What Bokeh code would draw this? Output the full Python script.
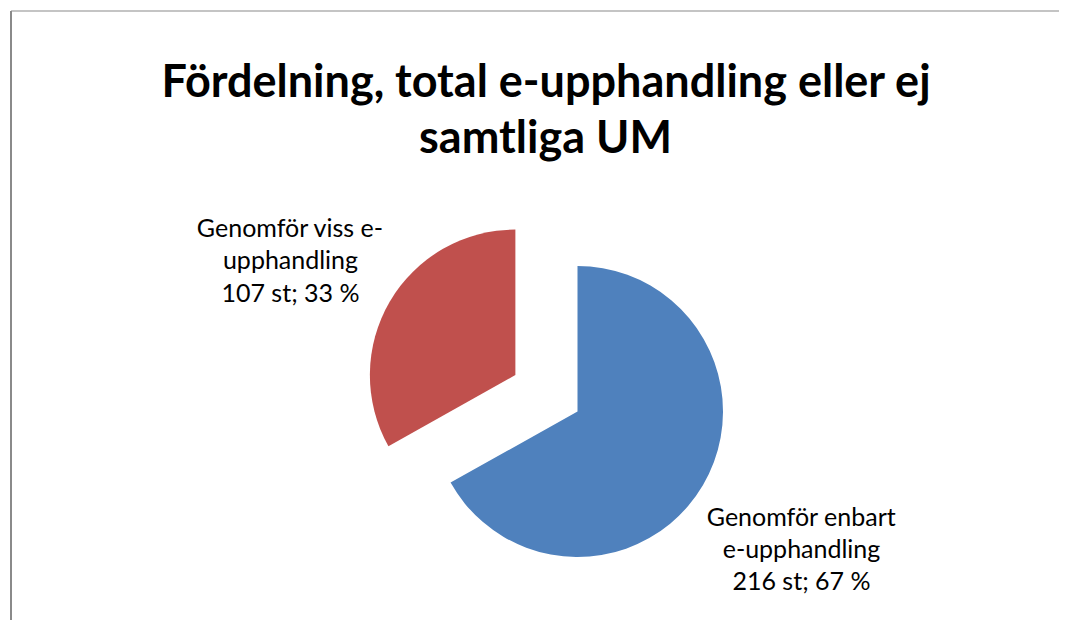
import math
from bokeh.plotting import figure
from bokeh.models import Range1d, ColumnDataSource
from bokeh.core.properties import value
from bokeh.embed import file_html
from bokeh.resources import INLINE

# ---- data ----
categories = ["Genomför enbart e-upphandling", "Genomför viss e-upphandling"]
counts = [216, 107]
colors = ["#4F81BD", "#C0504D"]
label_lines = [
    ["Genomför enbart", "e-upphandling"],
    ["Genomför viss e-", "upphandling"],
]
title_lines = ["Fördelning, total e-upphandling eller ej", "samtliga UM"]

W, H = 1059, 620
OFF = 0

def py(pix):  # convert screen-pixel y to data y
    return H - (pix - OFF)

p = figure(width=W, height=H, output_backend="svg", toolbar_location=None,
           x_range=Range1d(OFF, OFF + W), y_range=Range1d(0, H),
           min_border=0, outline_line_color=None)
p.axis.visible = False
p.grid.visible = False
p.background_fill_color = "white"
p.border_fill_color = "white"

# frame border (top and left visible)
p.line(x=[10.5, 1100], y=[py(10.5), py(10.5)], line_color="#8a8a8a", line_width=1.2)
p.line(x=[10.5, 10.5], y=[py(10.5), -40], line_color="#8a8a8a", line_width=2)

# ---- pie ----
total = sum(counts)
fracs = [c / total for c in counts]
cx, cy = 577, py(411)
R = 145.5
explode = [0, 72]

ang = math.pi / 2
xs, ys, sa, ea = [], [], [], []
for i, f in enumerate(fracs):
    a1 = ang
    a0 = ang - f * 2 * math.pi
    mid = (a0 + a1) / 2
    xs.append(cx + explode[i] * math.cos(mid))
    ys.append(cy + explode[i] * math.sin(mid))
    sa.append(a0)
    ea.append(a1)
    ang = a0

src = ColumnDataSource(dict(x=xs, y=ys, start=sa, end=ea, color=colors))
p.wedge(x="x", y="y", radius=R, start_angle="start", end_angle="end",
        fill_color="color", line_color=None, source=src)

# ---- labels ----
lab_font = value("Lato")
label_pos = [(801, [515, 547, 579]), (290, [226, 258.5, 291])]
for i in range(len(counts)):
    pct = round(100 * fracs[i])
    lines = label_lines[i] + [f"{counts[i]} st; {pct} %"]
    lx, bases = label_pos[i]
    p.text(x=[lx] * len(lines), y=[py(b) for b in bases], text=lines,
           text_font=lab_font, text_font_size="25px", text_align="center",
           text_baseline="alphabetic", text_color="black")

# ---- title ----
p.text(x=[546, 545], y=[py(79), py(135)], text=title_lines,
       text_font=value("Lato"), text_font_style="bold", text_font_size="45px",
       text_align="center", text_baseline="alphabetic", text_color="black")

open("out.html", "w").write(file_html(p, INLINE))
